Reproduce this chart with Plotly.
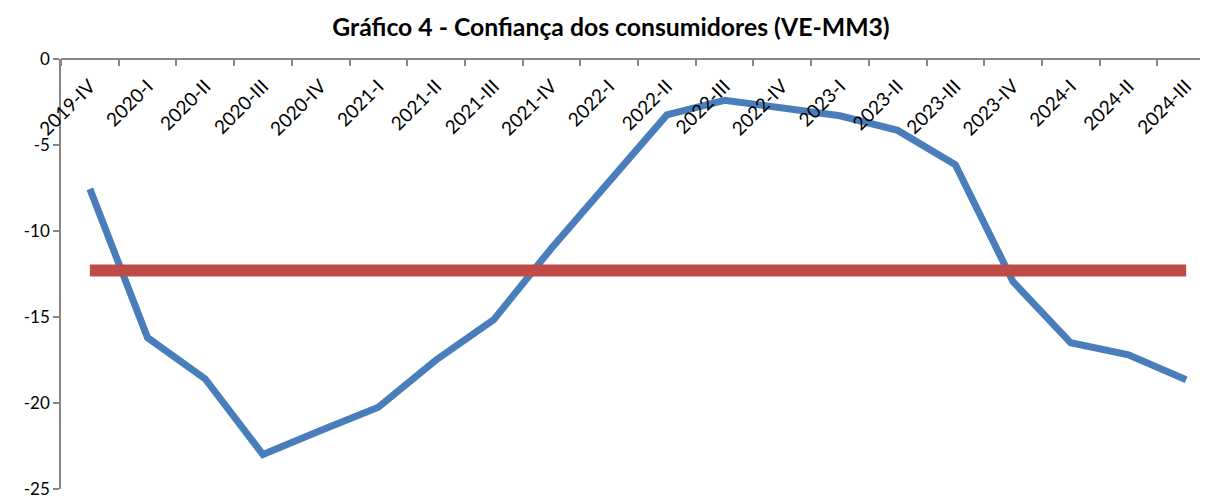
import plotly.graph_objects as go

categories = ["2019-IV", "2020-I", "2020-II", "2020-III", "2020-IV", "2021-I", "2021-II",
              "2021-III", "2021-IV", "2022-I", "2022-II", "2022-III", "2022-IV", "2023-I",
              "2023-II", "2023-III", "2023-IV", "2024-I", "2024-II", "2024-III"]
confianca = [-7.55, -16.2, -18.6, -23.0, -21.6, -20.25, -17.5, -15.15, -11.0, -7.2,
             -3.25, -2.4, -2.8, -3.3, -4.15, -6.15, -12.95, -16.5, -17.2, -18.65]
media = [-12.3] * len(categories)
y_ticks = [0, -5, -10, -15, -20, -25]

# page body has an 8px default margin, so offset everything by 8px
OFF = 8
W, H = 1208 - OFF, 501 - OFF
ML, MR, MT, MB = 61 - OFF, 0, 59 - OFF, 12
cat_px = 57.7
plot_w = W - ML - MR
x_range = [-0.5, -0.5 + plot_w / cat_px]

fig = go.Figure()
fig.add_trace(go.Scatter(x=categories, y=confianca, mode="lines",
                         line=dict(color="#4A7EBB", width=7), showlegend=False))
fig.add_trace(go.Scatter(x=categories, y=media, mode="lines",
                         line=dict(color="#BE4B48", width=12), showlegend=False))

axis_col = "#868686"
font_fam = "Lato, Noto Sans, sans-serif"
fig.update_layout(
    width=W, height=H,
    margin=dict(l=ML, r=MR, t=MT, b=MB, autoexpand=False),
    plot_bgcolor="white", paper_bgcolor="white",
    title=dict(text="<b>Gráfico 4 - Confiança dos consumidores (VE-MM3)</b>",
               x=(611 - OFF) / W, xref="container", xanchor="center",
               y=1 - (27 - OFF) / H, yref="container", yanchor="middle",
               font=dict(family=font_fam, size=24.75, color="black")),
    xaxis=dict(type="category", range=x_range, anchor="free", position=1, side="bottom",
               showline=True, linecolor=axis_col, linewidth=1.5,
               ticks="outside", ticklen=6, tickcolor=axis_col, tickwidth=1.5,
               tickson="boundaries", tickangle=-45, showgrid=False, zeroline=False,
               ticklabelstandoff=8,
               tickfont=dict(family=font_fam, size=19, color="black"), automargin=False),
    yaxis=dict(range=[-25, 0], tickvals=y_ticks, ticktext=[str(v) for v in y_ticks],
               showline=True, linecolor=axis_col, linewidth=1.5,
               ticks="outside", ticklen=6, tickcolor=axis_col, tickwidth=1.5,
               showgrid=False, zeroline=False, ticklabeloverflow="allow",
               tickfont=dict(family=font_fam, size=17, color="black"), automargin=False),
)

fig.write_html("out.html")
